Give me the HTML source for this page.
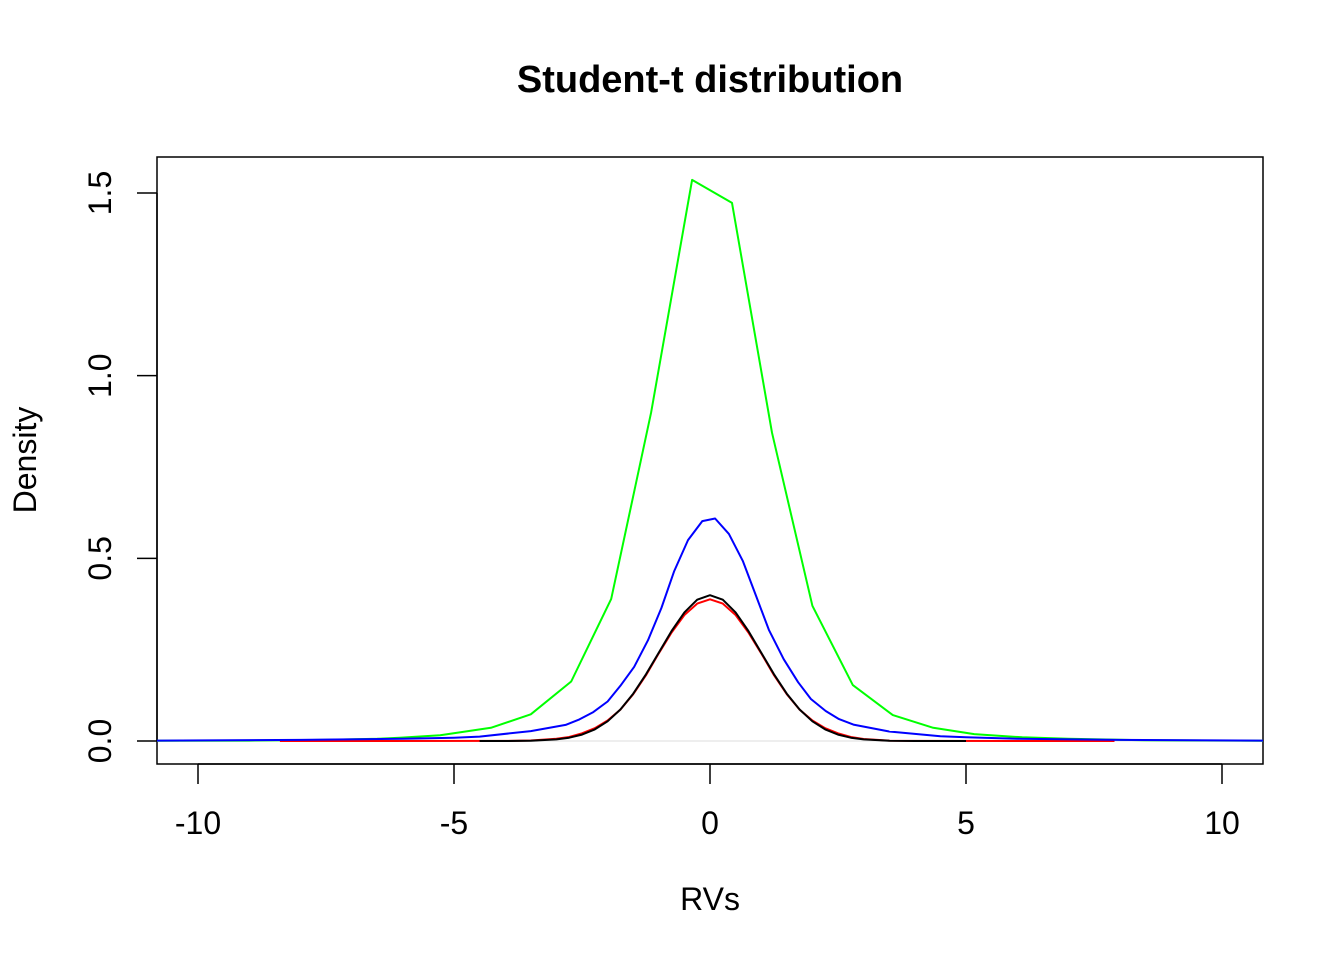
<!DOCTYPE html>
<html><head><meta charset="utf-8"><style>
body{margin:0;background:#fff;}
svg{display:block;font-family:"Liberation Sans",sans-serif;}
</style></head><body>
<svg id="chart" width="1344" height="960">
<text x="710" y="92" text-anchor="middle" font-weight="bold" font-size="38">Student-t distribution</text>
<text x="710" y="910" text-anchor="middle" font-size="32">RVs</text>
<text transform="translate(36,460) rotate(-90)" text-anchor="middle" font-size="32">Density</text>
<rect x="157" y="157" width="1106" height="607" fill="none" stroke="#000" stroke-width="1.5"/>
<g id="xaxis"></g>
<g id="yaxis"></g>
<g id="plot"></g>
</svg>
<script>
const xTicks=[-10,-5,0,5,10];
const yTicks=[0,0.5,1.0,1.5];
const yTickLabels=["0.0","0.5","1.0","1.5"];
const greenX=[-10.8,-9,-7.5,-6.5,-6.06,-5.27,-4.28,-3.50,-2.71,-1.93,-1.15,-0.35,0.43,1.21,2.0,2.79,3.57,4.36,5.16,6.1,7.0,8.5,10.8];
const greenY=[0.0005,0.001,0.003,0.006,0.009,0.016,0.036,0.073,0.163,0.389,0.899,1.536,1.473,0.844,0.370,0.153,0.071,0.036,0.019,0.010,0.006,0.002,0.0005];
const blueX=[-10.8,-8,-6,-5,-4.5,-3.5,-2.82,-2.55,-2.28,-2.0,-1.75,-1.48,-1.21,-0.95,-0.70,-0.43,-0.15,0.10,0.37,0.64,0.90,1.15,1.44,1.72,1.97,2.26,2.52,2.80,3.5,4.5,5,6,8,10.8];
const blueY=[0.001,0.003,0.006,0.009,0.012,0.027,0.044,0.059,0.079,0.108,0.151,0.203,0.276,0.364,0.465,0.550,0.602,0.609,0.567,0.493,0.397,0.304,0.224,0.161,0.115,0.082,0.060,0.045,0.026,0.013,0.010,0.006,0.003,0.001];
const redX=[-8.4,-4,-3.5,-3,-2.75,-2.5,-2.25,-2,-1.75,-1.5,-1.25,-1,-0.75,-0.5,-0.25,0,0.25,0.5,0.75,1,1.25,1.5,1.75,2,2.25,2.5,2.75,3,3.5,4,7.9];
const redY=[0,0.0003,0.0014,0.006,0.011,0.021,0.035,0.056,0.086,0.128,0.180,0.240,0.297,0.345,0.376,0.388,0.376,0.345,0.297,0.240,0.180,0.128,0.086,0.056,0.035,0.021,0.011,0.0055,0.0012,0.0002,0];
const blackX=[-4.5,-4,-3.5,-3,-2.75,-2.5,-2.25,-2,-1.75,-1.5,-1.25,-1,-0.75,-0.5,-0.25,0,0.25,0.5,0.75,1,1.25,1.5,1.75,2,2.25,2.5,2.75,3,3.5,4,5];
const blackY=[0.00002,0.0001,0.0009,0.0044,0.0091,0.0175,0.0317,0.054,0.0863,0.1295,0.1826,0.242,0.3011,0.352,0.3867,0.399,0.3867,0.352,0.3011,0.242,0.1826,0.1295,0.0863,0.054,0.0317,0.0175,0.0091,0.0044,0.0009,0.0001,0.0000015];

const NS="http://www.w3.org/2000/svg";
function sx(v){return 710+v*51.2;}
function sy(v){return 741-v*365.33;}
function mk(tag,attrs,parent){const e=document.createElementNS(NS,tag);for(const k in attrs)e.setAttribute(k,attrs[k]);parent.appendChild(e);return e;}
const xa=document.getElementById('xaxis'),ya=document.getElementById('yaxis'),pl=document.getElementById('plot');
mk('line',{x1:sx(-10),x2:sx(10),y1:764,y2:764,stroke:'#000','stroke-width':1.5},xa);
xTicks.forEach(t=>{
  const l=mk('line',{x1:sx(t),x2:sx(t),y1:764,y2:784,stroke:'#000','stroke-width':1.5},xa);
  
  
  const tx=mk('text',{x:sx(t),y:834,'text-anchor':'middle','font-size':32},xa);
  tx.textContent=String(t);
  
  
});
mk('line',{x1:157,x2:157,y1:sy(0),y2:sy(1.5),stroke:'#000','stroke-width':1.5},ya);
yTicks.forEach((t,i)=>{
  const l=mk('line',{x1:137,x2:157,y1:sy(t),y2:sy(t),stroke:'#000','stroke-width':1.5},ya);
  
  
  const tx=mk('text',{transform:`translate(111,${sy(t)}) rotate(-90)`,'text-anchor':'middle','font-size':32},ya);
  tx.textContent=yTickLabels[i];
  
  
});
const zl=mk('line',{x1:157,x2:1263,y1:sy(0),y2:sy(0),stroke:'#e8e8e8','stroke-width':1.5},pl);


function series(xs,ys,color,name){
  const pts=xs.map((x,i)=>sx(x).toFixed(1)+','+sy(ys[i]).toFixed(1)).join(' ');
  const p=mk('polyline',{points:pts,fill:'none',stroke:color,'stroke-width':2,'stroke-linejoin':'round'},pl);
  
  
}
series(greenX,greenY,'#00ff00','green-density-line');
series(redX,redY,'#ff0000','red-density-line');
series(blueX,blueY,'#0000ff','blue-density-line');
series(blackX,blackY,'#000000','black-density-line');
</script>
</body></html>
